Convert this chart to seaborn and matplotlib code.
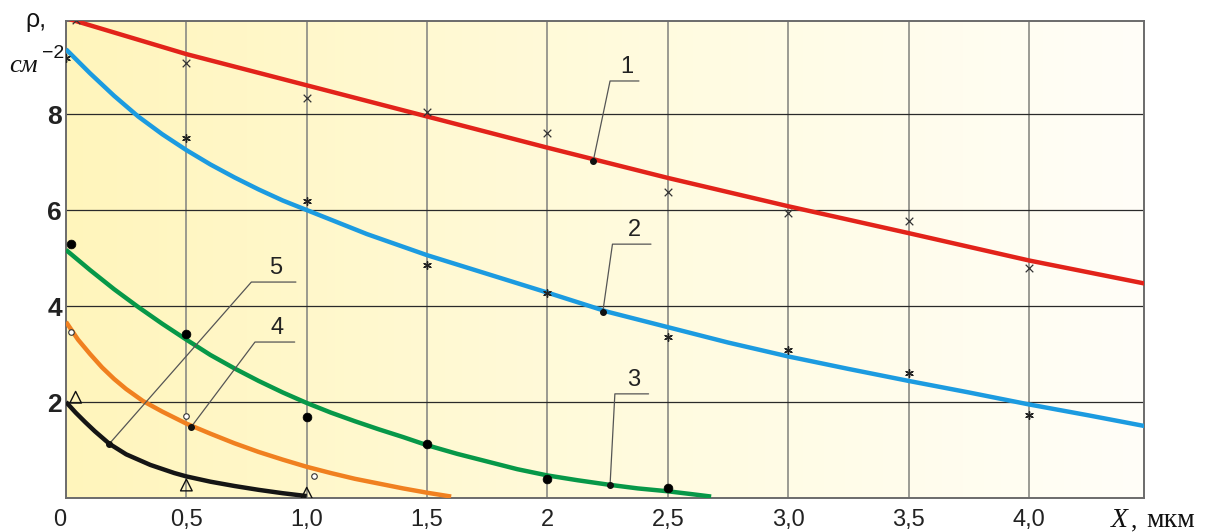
import numpy as np
import pandas as pd
import matplotlib
matplotlib.use("Agg")
import matplotlib.pyplot as plt
import seaborn as sns
from matplotlib.colors import LinearSegmentedColormap

# ---- data ----
c1_x = [0.0, 0.5, 1.0, 1.5, 2.0, 2.5, 3.0, 3.5, 4.0, 4.48]
c1_y = [10.0, 9.25, 8.6, 7.95, 7.3, 6.67, 6.08, 5.52, 4.95, 4.47]
c2_x = [0.0, 0.1, 0.2, 0.3, 0.4, 0.5, 0.6, 0.7, 0.8, 0.9, 1.0, 1.25, 1.5, 1.75, 2.0,
        2.25, 2.5, 2.75, 3.0, 3.25, 3.5, 3.75, 4.0, 4.25, 4.48]
c2_y = [9.35, 8.85, 8.38, 7.95, 7.58, 7.25, 6.95, 6.68, 6.43, 6.2, 6.0, 5.5, 5.06, 4.67, 4.28,
        3.88, 3.56, 3.24, 2.95, 2.69, 2.44, 2.2, 1.95, 1.72, 1.5]
c3_x = [0.0, 0.1, 0.2, 0.3, 0.4, 0.5, 0.6, 0.7, 0.8, 0.9, 1.0, 1.1, 1.2, 1.3, 1.4, 1.5,
        1.625, 1.75, 1.875, 2.0, 2.125, 2.25, 2.375, 2.5, 2.6, 2.68]
c3_y = [5.17, 4.75, 4.35, 3.98, 3.63, 3.3, 2.98, 2.7, 2.44, 2.2, 1.98, 1.78, 1.6, 1.43, 1.27, 1.1,
        0.92, 0.76, 0.6, 0.47, 0.37, 0.28, 0.2, 0.14, 0.08, 0.03]
c4_x = [0.0, 0.05, 0.1, 0.15, 0.2, 0.25, 0.32, 0.4, 0.5, 0.6, 0.7, 0.8, 0.9, 1.0,
        1.1, 1.2, 1.3, 1.4, 1.5, 1.6]
c4_y = [3.67, 3.3, 3.0, 2.72, 2.48, 2.27, 2.02, 1.8, 1.55, 1.34, 1.14, 0.96, 0.8, 0.65,
        0.52, 0.4, 0.3, 0.2, 0.11, 0.03]
c5_x = [0.0, 0.04, 0.08, 0.12, 0.18, 0.25, 0.35, 0.45, 0.5, 0.6, 0.7, 0.8, 0.9, 1.0]
c5_y = [2.0, 1.78, 1.58, 1.39, 1.13, 0.91, 0.69, 0.52, 0.45, 0.34, 0.25, 0.17, 0.1, 0.04]

m1_x = [0.04, 0.5, 1.0, 1.5, 2.0, 2.5, 3.0, 3.5, 4.0]
m1_y = [9.96, 9.06, 8.33, 8.04, 7.6, 6.38, 5.94, 5.77, 4.79]
m2_x = [0.0, 0.5, 1.0, 1.5, 2.0, 2.5, 3.0, 3.5, 4.0]
m2_y = [9.17, 7.5, 6.19, 4.85, 4.27, 3.35, 3.08, 2.6, 1.73]
m3_x = [0.02, 0.5, 1.0, 1.5, 2.0, 2.5]
m3_y = [5.29, 3.42, 1.69, 1.13, 0.4, 0.21]
m4_x = [0.02, 0.5, 1.03]
m4_y = [3.46, 1.71, 0.46]
m5_x = [0.04, 0.5, 1.0]
m5_y = [2.1, 0.27, 0.1]

labels = ["1", "2", "3", "4", "5"]
lab_dot_x = [2.19, 2.23, 2.26, 0.52, 0.18]
lab_dot_y = [7.02, 3.88, 0.27, 1.48, 1.13]
lab_u0_x = [2.26, 2.27, 2.28, 0.785, 0.77]
lab_u1_x = [2.38, 2.43, 2.42, 0.95, 0.955]
lab_u_y = [8.69, 5.29, 2.17, 3.25, 4.5]

xticks = [0, 0.5, 1.0, 1.5, 2.0, 2.5, 3.0, 3.5, 4.0]
xtick_labels = ["0", "0,5", "1,0", "1,5", "2", "2,5", "3,0", "3,5", "4,0"]
yticks = [2, 4, 6, 8]
ytick_labels = ["2", "4", "6", "8"]

colors = ["#E2231A", "#1C9BE0", "#079848", "#F08020", "#151515"]

sns.set_theme(style="white")
plt.rcParams['font.family'] = ['Liberation Sans', 'DejaVu Sans']

fig = plt.figure(figsize=(12.06, 5.32), dpi=100)
ax = fig.add_axes([66/1206, 34/532, (1144-66)/1206, (498-21)/532])
XMAX, YMAX = 4.478, 9.94
ax.set_xlim(0, XMAX)
ax.set_ylim(0, YMAX)

# background gradient
cmap = LinearSegmentedColormap.from_list("bg", ["#FFF5BC", "#FFF9D2", "#FFFCE6", "#FFFEF8"])
grad = np.linspace(0, 1, 256).reshape(1, -1)
ax.imshow(grad, extent=[0, XMAX, 0, YMAX], aspect="auto", cmap=cmap, zorder=0)

# grid
for xv in xticks[1:]:
    ax.axvline(xv, color="#8a8a84", lw=1.2, zorder=1)
for yv in yticks:
    ax.axhline(yv, color="#2a2a2a", lw=0.9, zorder=1)

curves = [(c1_x, c1_y), (c2_x, c2_y), (c3_x, c3_y), (c4_x, c4_y), (c5_x, c5_y)]
for (cx, cy), col in zip(curves, colors):
    sns.lineplot(x=cx, y=cy, ax=ax, color=col, lw=3.2, sort=False, estimator=None, zorder=3,
                 solid_capstyle="butt", solid_joinstyle="round")

# markers
sns.scatterplot(x=m1_x, y=m1_y, ax=ax, marker="x", s=30, color="#333333", linewidth=0.9, zorder=5)
sns.scatterplot(x=m2_x, y=m2_y, ax=ax, marker=(6, 2, 0), s=30, color="#222222", linewidth=1.0, zorder=5)
sns.scatterplot(x=m3_x, y=m3_y, ax=ax, marker="o", s=40, color="#000000", edgecolor="#000000", zorder=5)
sns.scatterplot(x=m4_x, y=m4_y, ax=ax, marker="o", s=16, facecolor="white", edgecolor="#333333", linewidth=0.8, zorder=5)
sns.scatterplot(x=m5_x, y=m5_y, ax=ax, marker="^", s=70, facecolor="none", edgecolor="#111111", linewidth=1.0, zorder=5)

# leader labels
for lab, dx, dy, ux0, ux1, uy in zip(labels, lab_dot_x, lab_dot_y, lab_u0_x, lab_u1_x, lab_u_y):
    ax.plot([dx, ux0, ux1], [dy, uy, uy], color="#555555", lw=0.9, zorder=4)
    ax.plot([dx], [dy], "o", color="#111111", ms=4, zorder=6)
    ax.text((ux0 + ux1) / 2 + 0.01, uy + 0.06, lab, ha="center", va="bottom", fontsize=17, color="#222222", zorder=6)

ax.set_xticks(xticks)
ax.set_xticklabels(xtick_labels)
ax.set_yticks(yticks)
ax.set_yticklabels(ytick_labels)
ax.tick_params(axis="both", length=0, labelsize=17, colors="#222222")
ax.tick_params(axis="x", pad=8)
ax.tick_params(axis="y", pad=3)
for lbl in ax.get_yticklabels():
    lbl.set_fontsize(19)
    lbl.set_fontweight("bold")
ax.get_xticklabels()[0].set_horizontalalignment("right")
for sp in ax.spines.values():
    sp.set_color("#6b6b6b")
    sp.set_linewidth(1.4)
ax.grid(False)

fig.text(25/1206, 1 - 20/532, "ρ,", fontsize=18, ha="left", va="center", color="#111111")
fig.text(9/1206, 1 - 72/532, "см", fontsize=19, style="italic", family=["Liberation Serif", "DejaVu Serif"],
         ha="left", va="baseline", color="#111111")
fig.text(42/1206, 1 - 53/532, "−2", fontsize=14, ha="left", va="center", color="#111111")
fig.text(1111/1206, 1 - 527/532, "X", fontsize=20, style="italic", family=["Liberation Serif", "DejaVu Serif"],
         ha="left", va="baseline", color="#111111")
fig.text(1131/1206, 1 - 527/532, ",", fontsize=18, family=["Liberation Serif", "DejaVu Serif"],
         ha="left", va="baseline", color="#111111")
fig.text(1146/1206, 1 - 527/532, "мкм", fontsize=20, family=["Liberation Serif", "DejaVu Serif"],
         ha="left", va="baseline", color="#111111")

fig.savefig("out.png", dpi=100)
